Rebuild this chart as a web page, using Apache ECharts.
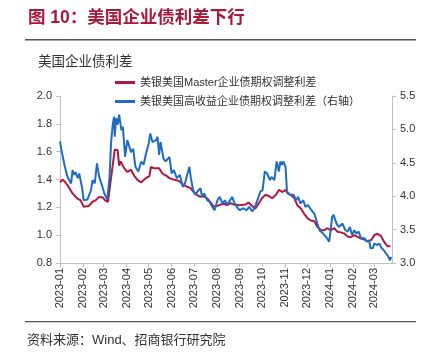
<!DOCTYPE html>
<html>
<head>
<meta charset="utf-8">
<script src="https://cdn.jsdelivr.net/npm/echarts@6/dist/echarts.min.js"></script>
<style>html,body{margin:0;padding:0;background:#fff}#c{width:430px;height:357px}</style>
</head>
<body>
<div id="c"></div>
<script>
const monthLabels = ['2023-01','2023-02','2023-03','2023-04','2023-05','2023-06','2023-07','2023-08','2023-09','2023-10','2023-11','2023-12','2024-01','2024-02','2024-03'];
const leftTicks = [0.8, 1.0, 1.2, 1.4, 1.6, 1.8, 2.0];
const rightTicks = [3.0, 3.5, 4.0, 4.5, 5.0, 5.5];

const redName = '美银美国Master企业债期权调整利差';
const blueName = '美银美国高收益企业债期权调整利差（右轴）';

const redDates = ['2023-01-01','2023-01-05','2023-01-07','2023-01-11','2023-01-18','2023-01-24','2023-01-29','2023-02-02','2023-02-09','2023-02-14','2023-02-18','2023-02-23','2023-02-28','2023-03-03','2023-03-07','2023-03-10','2023-03-13','2023-03-16','2023-03-20','2023-03-22','2023-03-24','2023-03-29','2023-04-02','2023-04-07','2023-04-11','2023-04-16','2023-04-21','2023-04-27','2023-05-02','2023-05-04','2023-05-09','2023-05-15','2023-05-20','2023-05-24','2023-05-29','2023-06-03','2023-06-08','2023-06-12','2023-06-17','2023-06-21','2023-06-26','2023-07-01','2023-07-05','2023-07-10','2023-07-14','2023-07-19','2023-07-23','2023-07-28','2023-08-02','2023-08-06','2023-08-11','2023-08-15','2023-08-20','2023-08-24','2023-08-31','2023-09-09','2023-09-13','2023-09-18','2023-09-22','2023-09-27','2023-10-01','2023-10-06','2023-10-11','2023-10-15','2023-10-20','2023-10-24','2023-10-29','2023-11-02','2023-11-05','2023-11-09','2023-11-14','2023-11-18','2023-11-23','2023-11-27','2023-12-02','2023-12-06','2023-12-11','2023-12-15','2023-12-20','2023-12-24','2023-12-29','2024-01-02','2024-01-07','2024-01-11','2024-01-16','2024-01-20','2024-01-25','2024-01-29','2024-02-03','2024-02-07','2024-02-12','2024-02-16','2024-02-21','2024-02-26','2024-03-01','2024-03-05','2024-03-10','2024-03-14','2024-03-19','2024-03-23'];
const redValues = [1.38,1.40,1.40,1.36,1.30,1.265,1.25,1.205,1.21,1.24,1.25,1.275,1.27,1.25,1.24,1.37,1.49,1.615,1.61,1.50,1.53,1.48,1.455,1.47,1.43,1.395,1.38,1.41,1.425,1.49,1.48,1.48,1.44,1.43,1.41,1.40,1.395,1.385,1.36,1.35,1.34,1.31,1.29,1.275,1.28,1.265,1.24,1.205,1.21,1.22,1.225,1.215,1.23,1.22,1.215,1.22,1.235,1.21,1.19,1.23,1.265,1.29,1.28,1.265,1.29,1.325,1.31,1.325,1.30,1.29,1.265,1.215,1.19,1.155,1.12,1.105,1.10,1.06,1.035,1.035,1.05,1.035,1.05,1.025,1.02,1.013,0.99,0.985,1.00,0.99,0.975,0.97,0.955,0.965,1.00,1.01,0.995,0.955,0.92,0.92];

const blueDates = ['2023-01-01','2023-01-03','2023-01-07','2023-01-11','2023-01-16','2023-01-18','2023-01-20','2023-01-22','2023-01-25','2023-01-27','2023-01-31','2023-02-02','2023-02-07','2023-02-12','2023-02-14','2023-02-17','2023-02-20','2023-02-23','2023-02-26','2023-03-02','2023-03-06','2023-03-09','2023-03-11','2023-03-13','2023-03-15','2023-03-16','2023-03-18','2023-03-20','2023-03-22','2023-03-25','2023-03-27','2023-03-30','2023-04-02','2023-04-07','2023-04-10','2023-04-13','2023-04-17','2023-04-21','2023-04-24','2023-04-27','2023-05-01','2023-05-03','2023-05-06','2023-05-11','2023-05-13','2023-05-15','2023-05-17','2023-05-21','2023-05-24','2023-05-29','2023-06-01','2023-06-04','2023-06-08','2023-06-12','2023-06-16','2023-06-19','2023-06-22','2023-06-25','2023-06-27','2023-06-30','2023-07-03','2023-07-06','2023-07-10','2023-07-12','2023-07-15','2023-07-19','2023-07-22','2023-07-26','2023-07-29','2023-08-02','2023-08-05','2023-08-09','2023-08-12','2023-08-15','2023-08-19','2023-08-22','2023-08-24','2023-08-28','2023-09-01','2023-09-06','2023-09-10','2023-09-14','2023-09-18','2023-09-21','2023-09-25','2023-09-29','2023-10-02','2023-10-05','2023-10-08','2023-10-12','2023-10-14','2023-10-18','2023-10-21','2023-10-24','2023-10-26','2023-10-28','2023-10-30','2023-11-02','2023-11-04','2023-11-08','2023-11-13','2023-11-16','2023-11-19','2023-11-22','2023-11-26','2023-11-29','2023-12-02','2023-12-07','2023-12-11','2023-12-13','2023-12-15','2023-12-18','2023-12-22','2023-12-27','2023-12-31','2024-01-02','2024-01-04','2024-01-06','2024-01-10','2024-01-13','2024-01-18','2024-01-22','2024-01-25','2024-01-28','2024-01-31','2024-02-03','2024-02-06','2024-02-09','2024-02-12','2024-02-17','2024-02-20','2024-02-23','2024-02-25','2024-02-28','2024-03-01','2024-03-05','2024-03-08','2024-03-11','2024-03-14','2024-03-17','2024-03-20','2024-03-22','2024-03-24'];
const blueValues = [4.82,4.69,4.47,4.29,4.19,4.39,4.32,4.36,4.27,4.34,4.12,3.94,3.95,4.09,4.24,4.19,4.49,4.29,4.19,4.04,3.95,4.29,4.79,5.04,5.19,4.89,5.17,5.07,5.22,4.99,5.04,4.59,4.84,4.66,4.71,4.44,4.37,4.52,4.47,4.62,4.79,4.94,4.81,4.84,4.89,4.62,4.81,4.56,4.52,4.59,4.34,4.39,4.27,4.32,4.14,4.19,4.32,4.44,4.27,4.09,4.02,4.07,4.12,3.99,4.04,3.94,3.92,3.84,3.79,3.94,3.99,3.89,3.94,3.87,3.94,3.99,3.92,3.84,3.79,3.82,3.79,3.84,3.77,3.82,3.94,4.07,4.09,4.37,4.34,4.24,4.29,4.24,4.52,4.37,4.52,4.47,4.52,4.44,4.07,4.02,4.02,3.94,3.99,3.89,3.94,3.84,3.87,3.79,3.74,3.74,3.59,3.49,3.45,3.39,3.32,3.49,3.69,3.72,3.59,3.54,3.59,3.49,3.47,3.54,3.42,3.49,3.44,3.47,3.37,3.37,3.32,3.34,3.22,3.22,3.29,3.27,3.29,3.22,3.19,3.14,3.10,3.04,3.09];

function ts(s){ const p = s.split('-').map(Number); return Date.UTC(p[0], p[1]-1, p[2] || 1); }
const monthTs = monthLabels.map(ts);
function fmtMonth(v){ const d = new Date(v); return d.getUTCFullYear() + '-' + String(d.getUTCMonth()+1).padStart(2,'0'); }

const RED = '#B0183C', BLUE = '#1F6DC2', AXIS = '#BFBFBF';
const latin = 'Liberation Sans, Arial, Noto Sans CJK SC, sans-serif';
const cjk = 'Noto Sans CJK SC, sans-serif';

const chart = echarts.init(document.getElementById('c'), null, {renderer: 'canvas'});
chart.setOption({
  animation: false,
  backgroundColor: '#fff',
  grid: {left: 60, right: 38, top: 96, bottom: 94},
  legend: {
    orient: 'vertical', left: 110, top: 72, itemGap: 8,
    itemWidth: 20, itemHeight: 3, icon: 'rect',
    textStyle: {fontSize: 11, color: '#333', fontFamily: latin},
    data: [redName, blueName]
  },
  xAxis: {
    type: 'value',
    min: ts('2023-01-01'), max: ts('2024-03-25'),
    axisLine: {lineStyle: {color: AXIS, width: 1}},
    axisTick: {show: true, length: 4, lineStyle: {color: AXIS}, customValues: monthTs},
    axisLabel: {rotate: 90, margin: 5, fontSize: 11, color: '#333', fontFamily: latin, customValues: monthTs, formatter: fmtMonth, hideOverlap: false, showMinLabel: true, showMaxLabel: true},
    splitLine: {show: false}
  },
  yAxis: [{
    type: 'value', min: 0.8, max: 2.0, interval: 0.2,
    axisLine: {show: true, lineStyle: {color: AXIS}},
    axisTick: {show: true, length: 4, lineStyle: {color: AXIS}},
    axisLabel: {fontSize: 11, color: '#333', fontFamily: latin, margin: 8, formatter: v => v.toFixed(1)},
    splitLine: {show: false}
  }, {
    type: 'value', min: 3.0, max: 5.5, interval: 0.5,
    axisLine: {show: true, lineStyle: {color: AXIS}},
    axisTick: {show: true, length: 4, lineStyle: {color: AXIS}},
    axisLabel: {fontSize: 11, color: '#333', fontFamily: latin, margin: 8, formatter: v => v.toFixed(1)},
    splitLine: {show: false}
  }],
  series: [{
    name: redName, type: 'line', yAxisIndex: 0, showSymbol: false, symbol: 'none',
    lineStyle: {color: RED, width: 2}, itemStyle: {color: RED},
    data: redDates.map((d, i) => [ts(d), redValues[i]])
  }, {
    name: blueName, type: 'line', yAxisIndex: 1, showSymbol: false, symbol: 'none',
    lineStyle: {color: BLUE, width: 2}, itemStyle: {color: BLUE},
    data: blueDates.map((d, i) => [ts(d), blueValues[i]])
  }],
  graphic: [
    {type: 'text', left: 28, top: 9, style: {text: '图 10：美国企业债利差下行', fontSize: 17.5, fontWeight: 'bold', fill: '#A8193A', fontFamily: latin}},
    {type: 'rect', shape: {x: 25, y: 39, width: 391, height: 1.5}, style: {fill: '#555'}},
    {type: 'text', left: 38, top: 54, style: {text: '美国企业债利差', fontSize: 13.5, fill: '#333', fontFamily: cjk}},
    {type: 'rect', shape: {x: 25, y: 321, width: 391, height: 1.2}, style: {fill: '#555'}},
    {type: 'text', left: 27, top: 334, style: {text: '资料来源：Wind、招商银行研究院', fontSize: 13, fill: '#333', fontFamily: latin}}
  ]
});
</script>
</body>
</html>
